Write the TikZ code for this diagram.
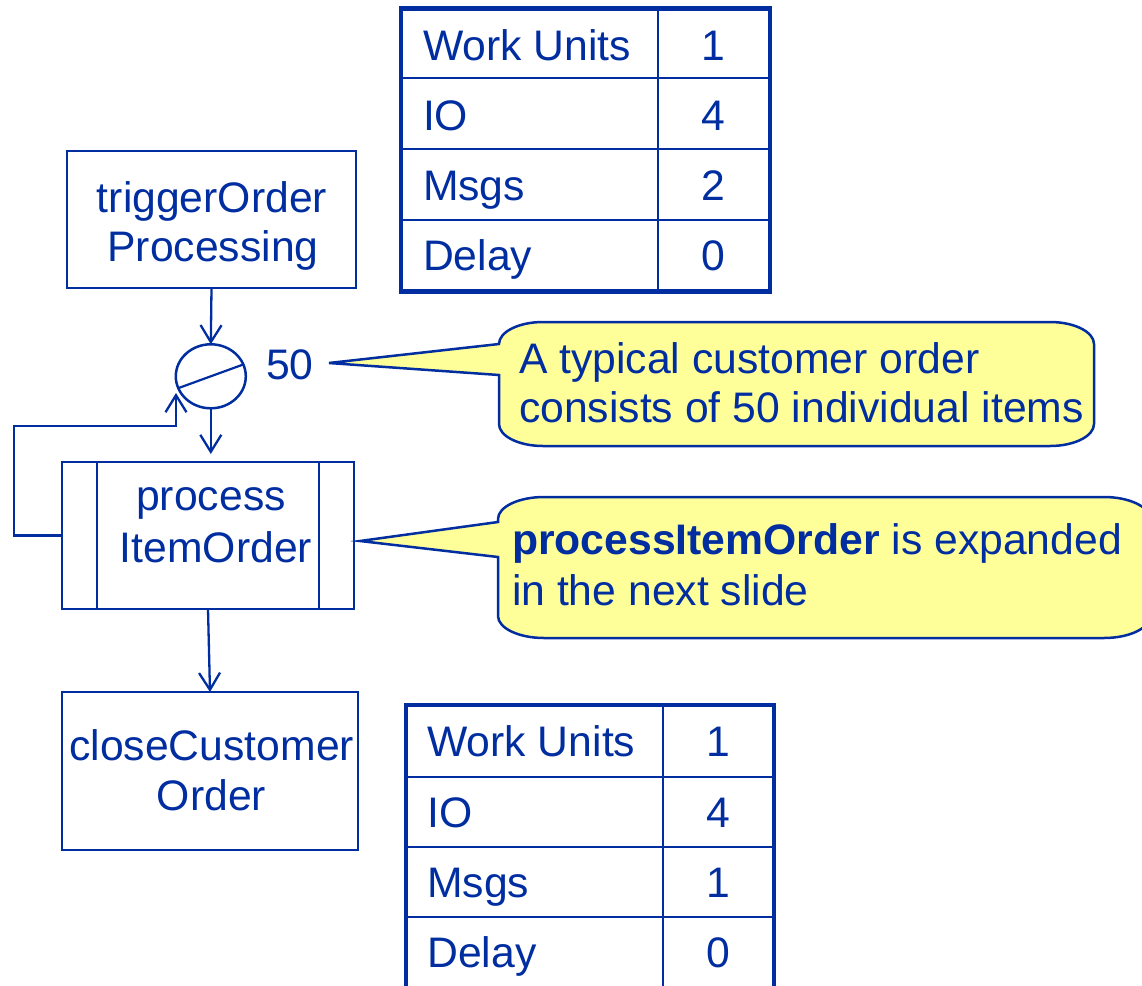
\documentclass[tikz,border=0pt]{standalone}
\usepackage{fontspec}
\setmainfont{Liberation Sans}
\usetikzlibrary{arrows.meta,shapes.geometric}
\definecolor{dblue}{RGB}{0,45,160}
\definecolor{cyel}{RGB}{255,255,153}
\begin{document}
\begin{tikzpicture}[x=1pt,y=-1pt,
  every node/.style={inner sep=0pt, outer sep=0pt},
  txt/.style={font=\fontsize{42.7}{50}\selectfont, text=dblue},
  bx/.style={draw=dblue, line width=2.3pt, rectangle},
  arr/.style={draw=dblue, line width=2.3pt, -{Straight Barb[length=17pt,width=21pt]}},
  thinln/.style={draw=dblue, line width=2.2pt},
  thickln/.style={draw=dblue, line width=4.5pt},
  callout/.style={draw=dblue, line width=2.5pt, fill=cyel},
]
\useasboundingbox (0,0) rectangle (1142,985);
\clip (0,0) rectangle (1142,985);

% ---------- top table ----------
\draw[thinln] (401,78.3) -- (770,78.3) (401,149) -- (770,149) (401,220) -- (770,220)
              (658.3,8.3) -- (658.3,291.7);
\draw[thickln] (401,8.3) rectangle (770,291.7);
\foreach \lab/\val/\b [count=\i] in {Work Units/1/60, IO/4/130, Msgs/2/200, Delay/0/270}{
  \node[txt, anchor=base west] (ta\i) at (423,\b) {\lab};
  \node[txt, anchor=base] (tv\i) at (713,\b) {\val};
}

% ---------- bottom table ----------
\draw[thinln] (406,776.7) -- (774,776.7) (406,846.7) -- (774,846.7) (406,916.7) -- (774,916.7)
              (662.7,705) -- (662.7,1000);
\draw[thickln] (406,1000) -- (406,705) -- (774,705) -- (774,1000);
\foreach \lab/\val/\b [count=\i] in {Work Units/1/756, IO/4/827, Msgs/1/897, Delay/0/967}{
  \node[txt, anchor=base west] (ba\i) at (427.3,\b) {\lab};
  \node[txt, anchor=base] (bv\i) at (718.3,\b) {\val};
}

% ---------- boxes ----------
\node[bx, minimum width=289pt, minimum height=137pt] (trig) at (211.5,219.5) {};
\node[txt, anchor=base] (trigA) at (212,212) {triggerOrder};
\node[txt, anchor=base] (trigB) at (213,261) {Processing};

\node[ellipse, draw=dblue, line width=2.5pt, minimum width=70pt, minimum height=64pt] (circ) at (210.8,376.3) {};
\draw[thinln] (circ.200) -- (circ.20);
\node[txt, anchor=base west] (fifty) at (266,379) {50};

\node[bx, minimum width=292pt, minimum height=147pt] (proc) at (208,535.5) {};
\draw[thinln] ([xshift=35pt]proc.north west) -- ([xshift=35pt]proc.south west);
\draw[thinln] ([xshift=-35pt]proc.north east) -- ([xshift=-35pt]proc.south east);
\node[txt, anchor=base] (procA) at (211,510) {process};
\node[txt, anchor=base] (procB) at (216,562) {ItemOrder};

\node[bx, minimum width=296pt, minimum height=158pt] (close) at (210,771) {};
\node[txt, anchor=base] (closeA) at (211.7,760) {closeCustomer};
\node[txt, anchor=base] (closeB) at (211.5,810) {Order};

% ---------- connectors ----------
\coordinate (loopA) at (14,426);
\coordinate (loopTip) at (176,393);
\draw[arr] (trig.south) -- (circ.north);
\draw[arr, shorten >=8pt] (circ.south) -- (circ.south |- proc.north);
\draw[arr] (proc.south) -- (close.north);
\draw[arr] (proc.west) -| (loopA) -| (loopTip);

% ---------- callouts ----------
\draw[callout] (499,375) -- (329,363) -- (499,344)
  .. controls (499,331.9) and (518.7,322) .. (543,322) -- (1050,322)
  .. controls (1074.3,322) and (1094,331.9) .. (1094,344) -- (1094,424)
  .. controls (1094,436.1) and (1074.3,446) .. (1050,446) -- (543,446)
  .. controls (518.7,446) and (499,436.1) .. (499,424) -- cycle;
\node[txt, anchor=base west] (c1a) at (519,373) {A typical customer order};
\node[txt, anchor=base west] (c1b) at (519,422) {consists of 50 individual items};

\draw[callout] (498,557) -- (360,541) -- (498,522) -- (498,519)
  .. controls (498,506.9) and (518.6,497) .. (544,497) -- (1104,497)
  .. controls (1129.4,497) and (1150,506.9) .. (1150,519) -- (1150,616)
  .. controls (1150,628.1) and (1129.4,638) .. (1104,638) -- (544,638)
  .. controls (518.6,638) and (498,628.1) .. (498,616) -- cycle;
\node[txt, anchor=base west] (c2a) at (512,554) {\textbf{processItemOrder} is expanded};
\node[txt, anchor=base west] (c2b) at (512,605) {in the next slide};
\end{tikzpicture}
\end{document}
